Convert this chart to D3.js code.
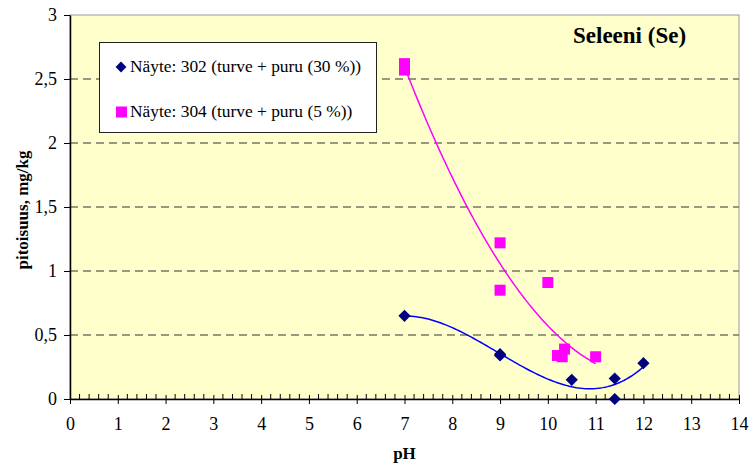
<!DOCTYPE html>
<html>
<head>
<meta charset="utf-8">
<script src="https://cdn.jsdelivr.net/npm/d3@7"></script>
<style>
  body { margin: 0; background: #fff; }
</style>
</head>
<body>
<svg class="chart"></svg>
<script>
const svgWidth = 751;
const svgHeight = 468;
const padding = {top: 15, left: 70, right: 12, bottom: 69};
const serif = 'Liberation Serif';

// Näyte 302 (diamonds)
const ph302 = [7, 9, 9, 10.5, 11.4, 11.4, 12];
const se302 = [0.65, 0.35, 0.34, 0.15, 0.16, 0.0, 0.28];
// Näyte 304 (squares)
const ph304 = [7, 7, 9, 9, 10, 10.2, 10.3, 10.35, 11];
const se304 = [2.62, 2.57, 1.22, 0.85, 0.91, 0.34, 0.33, 0.39, 0.33];

const seriesNames = ['Näyte: 302 (turve + puru (30 %))', 'Näyte: 304 (turve + puru (5 %))'];
const xTicks = d3.range(0, 15, 1);
const yTicks = [0, 0.5, 1, 1.5, 2, 2.5, 3];
const yTickLabels = ['0', '0,5', '1', '1,5', '2', '2,5', '3'];

// least squares polynomial (Excel style trend line)
function polyfit(xs, ys, order) {
    const n = order + 1;
    const A = [];
    for (let i = 0; i < n; i++) {
        A.push([]);
        for (let j = 0; j < n; j++) A[i].push(d3.sum(xs, x => Math.pow(x, i + j)));
        A[i].push(d3.sum(xs, (x, k) => Math.pow(x, i) * ys[k]));
    }
    for (let c = 0; c < n; c++) {
        let p = c;
        for (let r = c + 1; r < n; r++) if (Math.abs(A[r][c]) > Math.abs(A[p][c])) p = r;
        [A[c], A[p]] = [A[p], A[c]];
        for (let r = 0; r < n; r++) {
            if (r === c) continue;
            const f = A[r][c] / A[c][c];
            for (let k = c; k <= n; k++) A[r][k] -= f * A[c][k];
        }
    }
    const coef = A.map((row, i) => row[n] / row[i]);
    return x => d3.sum(coef, (c, i) => c * Math.pow(x, i));
}

const svg = d3.select(".chart")
    .attr('width', svgWidth)
    .attr('height', svgHeight);

const x = d3.scaleLinear()
    .domain([0, 14])
    .range([padding.left, svgWidth - padding.right]);

const y = d3.scaleLinear()
    .domain([0, 3])
    .range([svgHeight - padding.bottom, padding.top]);

// plot area
svg.append('rect')
    .attr('x', x(0))
    .attr('y', y(3))
    .attr('width', x(14) - x(0))
    .attr('height', y(0) - y(3))
    .attr('fill', '#FFFFCC')
    .attr('stroke', '#999999')
    .attr('stroke-width', 1);

// gridlines
svg.append('g')
    .selectAll('line')
    .data(yTicks.filter(d => d > 0 && d < 3))
    .join('line')
    .attr('x1', x(0))
    .attr('x2', x(14))
    .attr('y1', d => y(d))
    .attr('y2', d => y(d))
    .attr('stroke', '#777766')
    .attr('stroke-width', 1.3)
    .attr('stroke-dasharray', '8,5');

// x axis: minor ticks inside, major ticks crossing
svg.append('g')
    .attr('transform', `translate(0, ${y(0)})`)
    .selectAll('line')
    .data(d3.range(0, 70).map(i => i / 5).filter(d => d % 1 !== 0))
    .join('line')
    .attr('x1', d => x(d))
    .attr('x2', d => x(d))
    .attr('y1', 0)
    .attr('y2', -5)
    .attr('stroke', '#000');

const xAxis = svg.append('g')
    .attr('transform', `translate(0, ${y(0)})`)
    .call(d3.axisBottom(x).tickValues(xTicks).tickSize(5).tickSizeOuter(0).tickPadding(13));
xAxis.attr('font-family', serif).attr('font-size', 18);
xAxis.selectAll('.tick line').attr('y1', -4);
xAxis.select('.domain').attr('stroke-width', 1.5);

const yAxis = svg.append('g')
    .attr('transform', `translate(${x(0)}, 0)`)
    .call(d3.axisLeft(y).tickValues(yTicks).tickFormat((d, i) => yTickLabels[i]).tickSize(6).tickSizeOuter(0).tickPadding(7));
yAxis.attr('font-family', serif).attr('font-size', 18);
yAxis.select('.domain').attr('stroke-width', 1.5);

// trend lines
const fit302 = polyfit(ph302, se302, 3);
const fit304 = polyfit(ph304, se304, 2);
const line = d3.line().x(d => x(d[0])).y(d => y(d[1]));

svg.append('path')
    .attr('d', line(d3.range(7, 12.001, 0.05).map(v => [v, fit302(v)])))
    .attr('fill', 'none')
    .attr('stroke', '#0000FF')
    .attr('stroke-width', 1.5);

svg.append('path')
    .attr('d', line(d3.range(7, 11.001, 0.05).map(v => [v, fit304(v)])))
    .attr('fill', 'none')
    .attr('stroke', '#FF00FF')
    .attr('stroke-width', 1.5);

// points
const diamond = d3.symbol().type(d3.symbolDiamond2).size(95);
svg.append('g')
    .selectAll('path')
    .data(ph302.map((p, i) => [p, se302[i]]))
    .join('path')
    .attr('d', diamond)
    .attr('transform', d => `translate(${x(d[0])}, ${y(d[1])})`)
    .attr('fill', '#000080');

svg.append('g')
    .selectAll('rect')
    .data(ph304.map((p, i) => [p, se304[i]]))
    .join('rect')
    .attr('x', d => x(d[0]) - 5.5)
    .attr('y', d => y(d[1]) - 5.5)
    .attr('width', 11)
    .attr('height', 11)
    .attr('fill', '#FF00FF');

// legend
const legend = svg.append('g');
legend.append('rect')
    .attr('x', 99.5)
    .attr('y', 42.5)
    .attr('width', 277)
    .attr('height', 90)
    .attr('fill', '#fff')
    .attr('stroke', '#222')
    .attr('stroke-width', 1);
legend.append('path')
    .attr('d', d3.symbol().type(d3.symbolDiamond2).size(75))
    .attr('transform', 'translate(121, 67)')
    .attr('fill', '#000080');
legend.append('rect')
    .attr('x', 116)
    .attr('y', 106.5)
    .attr('width', 11)
    .attr('height', 11)
    .attr('fill', '#FF00FF');
legend.selectAll('text')
    .data(seriesNames)
    .join('text')
    .attr('x', 130)
    .attr('y', (d, i) => 72 + i * 45)
    .attr('font-family', serif)
    .attr('font-size', 17.4)
    .text(d => d);

// title
svg.append('text')
    .attr('x', 573)
    .attr('y', 43)
    .attr('font-family', serif)
    .attr('font-size', 23)
    .attr('font-weight', 'bold')
    .text('Seleeni (Se)');

// axis labels
svg.append('text')
    .attr('text-anchor', 'middle')
    .attr('transform', `translate(28, 210) rotate(-90)`)
    .attr('font-family', serif)
    .attr('font-size', 17)
    .attr('font-weight', 'bold')
    .text('pitoisuus, mg/kg');

svg.append('text')
    .attr('x', x(7))
    .attr('y', 459)
    .attr('text-anchor', 'middle')
    .attr('font-family', serif)
    .attr('font-size', 17)
    .attr('font-weight', 'bold')
    .text('pH');
</script>
</body>
</html>
